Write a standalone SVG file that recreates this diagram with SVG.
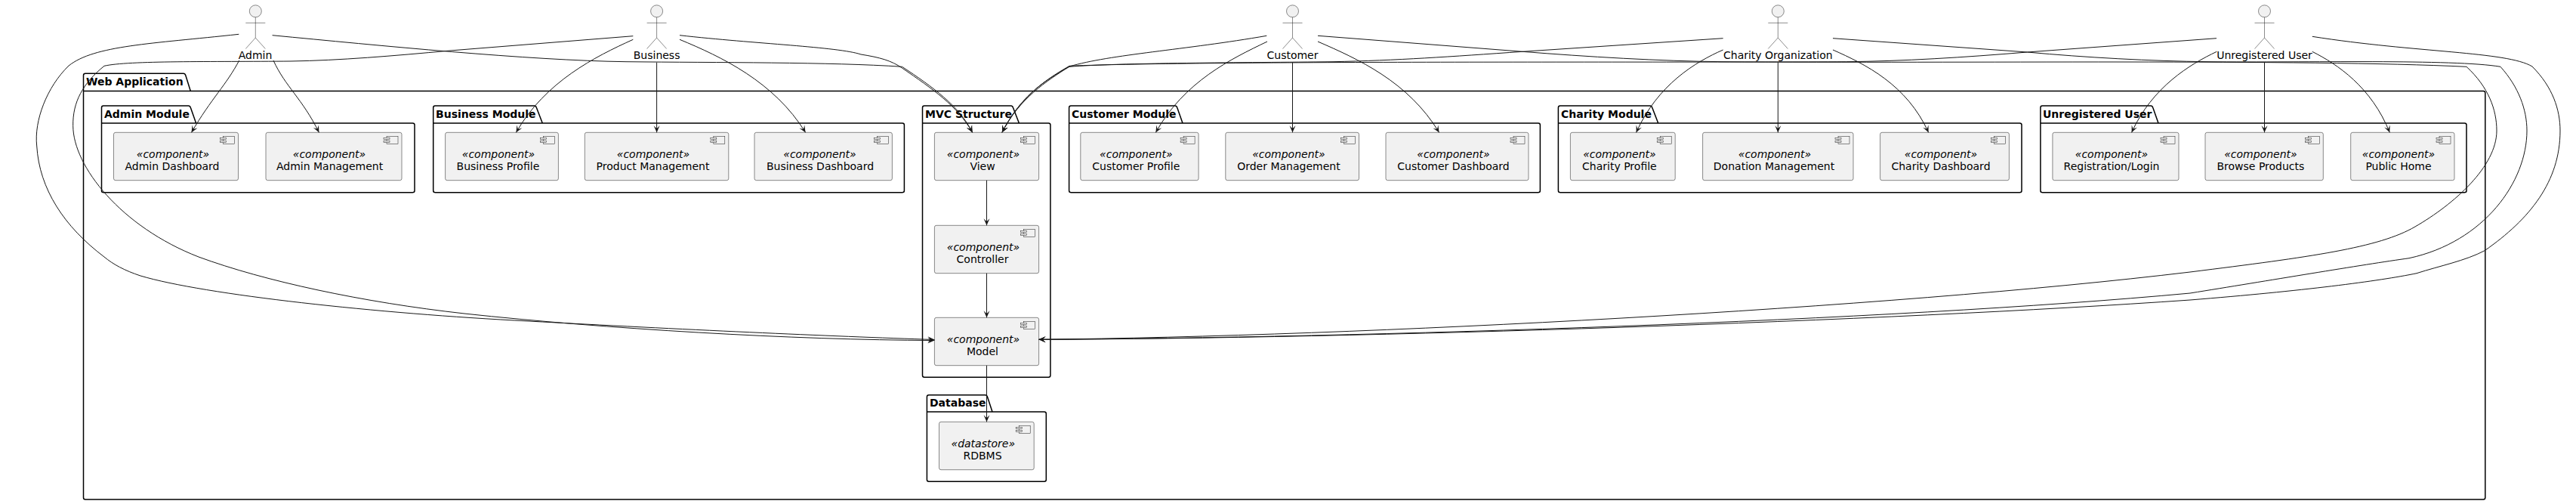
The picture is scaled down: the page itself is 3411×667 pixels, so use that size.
<svg xmlns="http://www.w3.org/2000/svg" width="3411" height="667" viewBox="0 0 3411 667">
<style>
text{font-family:"DejaVu Sans",sans-serif;font-size:14px;fill:#000}
.t{font-weight:bold}
.c{text-anchor:middle}
.s{font-style:italic;text-anchor:middle}
.p{fill:none;stroke:#000;stroke-width:1.5}
.b{fill:#F1F1F1;stroke:#181818;stroke-width:.5}
.a{fill:#F1F1F1;stroke:#181818;stroke-width:.5}
.i{fill:#F1F1F1;stroke:#181818;stroke-width:.5}
.l{fill:none;stroke:#181818;stroke-width:1;marker-end:url(#ah)}
</style>
<defs>
<marker id="ah" markerUnits="userSpaceOnUse" markerWidth="12" markerHeight="12" refX="9" refY="4" orient="auto" overflow="visible"><path d="M9,4 L0,0 L4,4 L0,8 Z" fill="#181818"/></marker>
<g id="ci"><rect class="i" x="0" y="0" width="15" height="10"/><rect class="i" x="-4" y="2" width="8" height="2"/><rect class="i" x="-4" y="6" width="8" height="2"/></g>
<g id="ac"><ellipse class="a" cx="0" cy="14.8" rx="8" ry="8"/><path class="a" style="fill:none" d="M0,22.8V50M-13,30.3H13M0,50L-13,64.5M0,50L13,64.5"/></g>
</defs>
<rect width="3411" height="667" fill="#fff"/>
<g id="packages">
<g id="pkg-web"><path class="p" d="M110.5,99.8Q110.5,97.3 113,97.3L243,97.3Q245,97.3 245.8,99.8L252.3,120.5L3288.3,120.5Q3290.8,120.5 3290.8,123L3290.8,658.5Q3290.8,661 3288.3,661L113,661Q110.5,661 110.5,658.5ZM110.5,120.5L252.3,120.5"/><text class="t" x="114" y="113">Web Application</text></g>
<g id="pkg-admin"><path class="p" d="M134.5,142.5Q134.5,140 137,140L249.6,140Q251.6,140 252.4,142.5L259.6,163L546.5,163Q549,163 549,165.5L549,252.2Q549,254.7 546.5,254.7L137,254.7Q134.5,254.7 134.5,252.2ZM134.5,163L259.6,163"/><text class="t" x="138" y="156">Admin Module</text></g>
<g id="pkg-business"><path class="p" d="M573.7,142.5Q573.7,140 576.2,140L707.6,140Q709.6,140 710.4,142.5L718.3,163L1194.9,163Q1197.4,163 1197.4,165.5L1197.4,252.2Q1197.4,254.7 1194.9,254.7L576.2,254.7Q573.7,254.7 573.7,252.2ZM573.7,163L718.3,163"/><text class="t" x="577" y="156">Business Module</text></g>
<g id="pkg-mvc"><path class="p" d="M1221.5,142.5Q1221.5,140 1224,140L1338.7,140Q1340.7,140 1341.5,142.5L1349.4,163L1388.4,163Q1390.9,163 1390.9,165.5L1390.9,496.8Q1390.9,499.3 1388.4,499.3L1224,499.3Q1221.5,499.3 1221.5,496.8ZM1221.5,163L1349.4,163"/><text class="t" x="1225" y="156">MVC Structure</text></g>
<g id="pkg-customer"><path class="p" d="M1415.6,142.5Q1415.6,140 1418.1,140L1556,140Q1558,140 1558.8,142.5L1566,163L2036.9,163Q2039.4,163 2039.4,165.5L2039.4,252.2Q2039.4,254.7 2036.9,254.7L1418.1,254.7Q1415.6,254.7 1415.6,252.2ZM1415.6,163L1566,163"/><text class="t" x="1419" y="156">Customer Module</text></g>
<g id="pkg-charity"><path class="p" d="M2063.4,142.5Q2063.4,140 2065.9,140L2185,140Q2187,140 2187.8,142.5L2195.7,163L2674.5,163Q2677,163 2677,165.5L2677,252.2Q2677,254.7 2674.5,254.7L2065.9,254.7Q2063.4,254.7 2063.4,252.2ZM2063.4,163L2195.7,163"/><text class="t" x="2067" y="156">Charity Module</text></g>
<g id="pkg-unreg"><path class="p" d="M2701.9,142.5Q2701.9,140 2704.4,140L2848,140Q2850,140 2850.8,142.5L2858,163L3263.5,163Q3266,163 3266,165.5L3266,252.2Q3266,254.7 3263.5,254.7L2704.4,254.7Q2701.9,254.7 2701.9,252.2ZM2701.9,163L2858,163"/><text class="t" x="2705" y="156">Unregistered User</text></g>
<g id="pkg-db"><path class="p" d="M1227.4,525.2Q1227.4,522.7 1229.9,522.7L1304.7,522.7Q1306.7,522.7 1307.5,525.2L1314,545L1382.8,545Q1385.3,545 1385.3,547.5L1385.3,634.8Q1385.3,637.3 1382.8,637.3L1229.9,637.3Q1227.4,637.3 1227.4,634.8ZM1227.4,545L1314,545"/><text class="t" x="1231" y="538">Database</text></g>
</g>
<g id="components">
<g id="admin-dashboard"><rect class="b" x="150.5" y="175.3" width="165" height="63.4" rx="2.5"/><use href="#ci" x="295.5" y="180.5"/><text class="s" x="229" y="209">«component»</text><text class="c" x="228" y="225">Admin Dashboard</text></g>
<g id="admin-management"><rect class="b" x="352" y="175.3" width="180" height="63.4" rx="2.5"/><use href="#ci" x="512" y="180.5"/><text class="s" x="436" y="209">«component»</text><text class="c" x="436.6" y="225">Admin Management</text></g>
<g id="business-profile"><rect class="b" x="589.6" y="175.3" width="149.8" height="63.4" rx="2.5"/><use href="#ci" x="719.4" y="180.5"/><text class="s" x="660" y="209">«component»</text><text class="c" x="659.4" y="225">Business Profile</text></g>
<g id="product-management"><rect class="b" x="774.3" y="175.3" width="190.5" height="63.4" rx="2.5"/><use href="#ci" x="944.8" y="180.5"/><text class="s" x="865" y="209">«component»</text><text class="c" x="864.5" y="225">Product Management</text></g>
<g id="business-dashboard"><rect class="b" x="999" y="175.3" width="182.4" height="63.4" rx="2.5"/><use href="#ci" x="1161.4" y="180.5"/><text class="s" x="1085.5" y="209">«component»</text><text class="c" x="1086" y="225">Business Dashboard</text></g>
<g id="view"><rect class="b" x="1237.4" y="175.3" width="138.2" height="63.4" rx="2.5"/><use href="#ci" x="1355.6" y="180.5"/><text class="s" x="1302" y="209">«component»</text><text class="c" x="1301" y="225">View</text></g>
<g id="controller"><rect class="b" x="1237.4" y="298.3" width="138.2" height="63.4" rx="2.5"/><use href="#ci" x="1355.6" y="303.5"/><text class="s" x="1302" y="332">«component»</text><text class="c" x="1301" y="348">Controller</text></g>
<g id="model"><rect class="b" x="1237.4" y="420.3" width="138.2" height="63.4" rx="2.5"/><use href="#ci" x="1355.6" y="425.5"/><text class="s" x="1302" y="454">«component»</text><text class="c" x="1301" y="470">Model</text></g>
<g id="rdbms"><rect class="b" x="1243.5" y="558.3" width="125.7" height="63.4" rx="2.5"/><use href="#ci" x="1349.2" y="563.5"/><text class="s" x="1301.8" y="592">«datastore»</text><text class="c" x="1301" y="608">RDBMS</text></g>
<g id="customer-profile"><rect class="b" x="1430.8" y="175.3" width="156.3" height="63.4" rx="2.5"/><use href="#ci" x="1567.1" y="180.5"/><text class="s" x="1504.3" y="209">«component»</text><text class="c" x="1504.3" y="225">Customer Profile</text></g>
<g id="order-management"><rect class="b" x="1622.8" y="175.3" width="176.7" height="63.4" rx="2.5"/><use href="#ci" x="1779.5" y="180.5"/><text class="s" x="1706.4" y="209">«component»</text><text class="c" x="1706.4" y="225">Order Management</text></g>
<g id="customer-dashboard"><rect class="b" x="1835" y="175.3" width="189" height="63.4" rx="2.5"/><use href="#ci" x="2004" y="180.5"/><text class="s" x="1924.5" y="209">«component»</text><text class="c" x="1924.5" y="225">Customer Dashboard</text></g>
<g id="charity-profile"><rect class="b" x="2079.4" y="175.3" width="138.8" height="63.4" rx="2.5"/><use href="#ci" x="2198.2" y="180.5"/><text class="s" x="2144.4" y="209">«component»</text><text class="c" x="2144.4" y="225">Charity Profile</text></g>
<g id="donation-management"><rect class="b" x="2254.6" y="175.3" width="199.4" height="63.4" rx="2.5"/><use href="#ci" x="2434" y="180.5"/><text class="s" x="2350" y="209">«component»</text><text class="c" x="2349" y="225">Donation Management</text></g>
<g id="charity-dashboard"><rect class="b" x="2489.6" y="175.3" width="170.8" height="63.4" rx="2.5"/><use href="#ci" x="2640.4" y="180.5"/><text class="s" x="2570" y="209">«component»</text><text class="c" x="2570" y="225">Charity Dashboard</text></g>
<g id="registration-login"><rect class="b" x="2717.9" y="175.3" width="167.1" height="63.4" rx="2.5"/><use href="#ci" x="2865" y="180.5"/><text class="s" x="2796" y="209">«component»</text><text class="c" x="2796" y="225">Registration/Login</text></g>
<g id="browse-products"><rect class="b" x="2920" y="175.3" width="156.3" height="63.4" rx="2.5"/><use href="#ci" x="3056.3" y="180.5"/><text class="s" x="2993.4" y="209">«component»</text><text class="c" x="2993.4" y="225">Browse Products</text></g>
<g id="public-home"><rect class="b" x="3112.7" y="175.3" width="137.3" height="63.4" rx="2.5"/><use href="#ci" x="3230" y="180.5"/><text class="s" x="3176" y="209">«component»</text><text class="c" x="3176" y="225">Public Home</text></g>
</g>
<g id="actors">
<g id="actor-admin"><use href="#ac" x="338.3" y="0"/><text class="c" x="338" y="78">Admin</text></g>
<g id="actor-business"><use href="#ac" x="869.6" y="0"/><text class="c" x="869.6" y="78">Business</text></g>
<g id="actor-customer"><use href="#ac" x="1711.5" y="0"/><text class="c" x="1711.5" y="78">Customer</text></g>
<g id="actor-charity"><use href="#ac" x="2354.3" y="0"/><text class="c" x="2354.3" y="78">Charity Organization</text></g>
<g id="actor-unreg"><use href="#ac" x="2998.5" y="0"/><text class="c" x="2998.5" y="78">Unregistered User</text></g>
</g>
<g id="connectors">
<path class="l" d="M316.7,80C300,112 280,130 253.5,175.3"/>
<path class="l" d="M362,80C378,115 400,130 422.4,175.3"/>
<path class="l" d="M316.3,45.3C200,58 125,60 91,87C62,115 45,160 48.7,193C52,250 85,300 138,340C150,350 165,358 186,365C270,390 500,415 700,425C900,436 1100,445 1237.4,449.5"/>
<path class="l" d="M360.6,46.7C500,60 700,80 829,81.7C950,83 1100,82 1194.5,88.3C1235,115 1270,140 1287.6,175.3"/>
<path class="l" d="M838.3,52.3C788,75 722,108 683.4,175.3"/>
<path class="l" d="M869.6,82.7V175.3"/>
<path class="l" d="M900,52.3C955,75 1025,108 1066.6,175.3"/>
<path class="l" d="M838.3,47.7L596,67C520,74 450,80 385,81C280,82 170,80 138,87.3C110,110 96,135 96.7,166.7C97,220 160,300 263,340C350,372 480,400 615,415C800,435 1050,450 1237.4,450.5"/>
<path class="l" d="M900,46.7C1000,58 1110,62 1140,72C1165,76 1180,80 1194.5,90C1235,118 1268,140 1287.6,175.3"/>
<path class="l" d="M1677.3,47.3C1570,66 1470,72 1416,88C1385,108 1350,130 1326.9,175.3"/>
<path class="l" d="M1678,55C1630,78 1568,108 1530.4,175.3"/>
<path class="l" d="M1711.5,82.7V175.3"/>
<path class="l" d="M1745,55C1798,78 1865,108 1905.6,175.3"/>
<path class="l" d="M1745,47.3L2016,68.3C2100,75 2200,81 2280,81.7C2600,84 3050,78 3266,88.3C3295,115 3306,145 3306,173C3306,220 3250,270 3198,300C3150,328 3060,340 2900,360C2500,408 1800,445 1375.5,449.3"/>
<path class="l" d="M2281.6,50.7L2016,68.3C1920,75 1850,80 1765,81.7C1650,83 1480,83 1416,88.3C1380,108 1350,130 1326.9,175.3"/>
<path class="l" d="M2281.6,66C2245,82 2195,112 2166.6,175.3"/>
<path class="l" d="M2354.3,82.7V175.3"/>
<path class="l" d="M2427,66C2470,85 2525,112 2553.6,175.3"/>
<path class="l" d="M2427,50.7L2684.4,69C2760,76 2850,81 2924,81.7C3050,83 3250,78 3311,88.3C3335,115 3346,145 3346,173C3346,240 3290,320 3190,341.7C3130,350 3000,372 2900,388C2500,425 1800,447 1375.5,449.3"/>
<path class="l" d="M2935,50.7L2684.4,69C2600,76 2520,81 2444.5,81.7C2200,83 1600,80 1416,87.3C1380,108 1350,130 1326.9,175.3"/>
<path class="l" d="M2935.3,68.3C2900,85 2850,115 2822.6,175.3"/>
<path class="l" d="M2998.5,82.7V175.3"/>
<path class="l" d="M3061.8,68.3C3095,85 3140,115 3164.3,175.3"/>
<path class="l" d="M3061.8,48.3C3200,70 3320,68 3353,88C3380,115 3390,145 3390,173C3390,240 3350,290 3290,331.7C3265,345 3230,352 3200,361.7C3150,372 3050,385 2900,397C2500,425 1800,448 1375.5,449.3"/>
<path class="l" d="M1306.5,238.7V298.3"/>
<path class="l" d="M1306.5,361.7V420.3"/>
<path class="l" d="M1306.5,483.7V558.3"/>
</g>
</svg>
